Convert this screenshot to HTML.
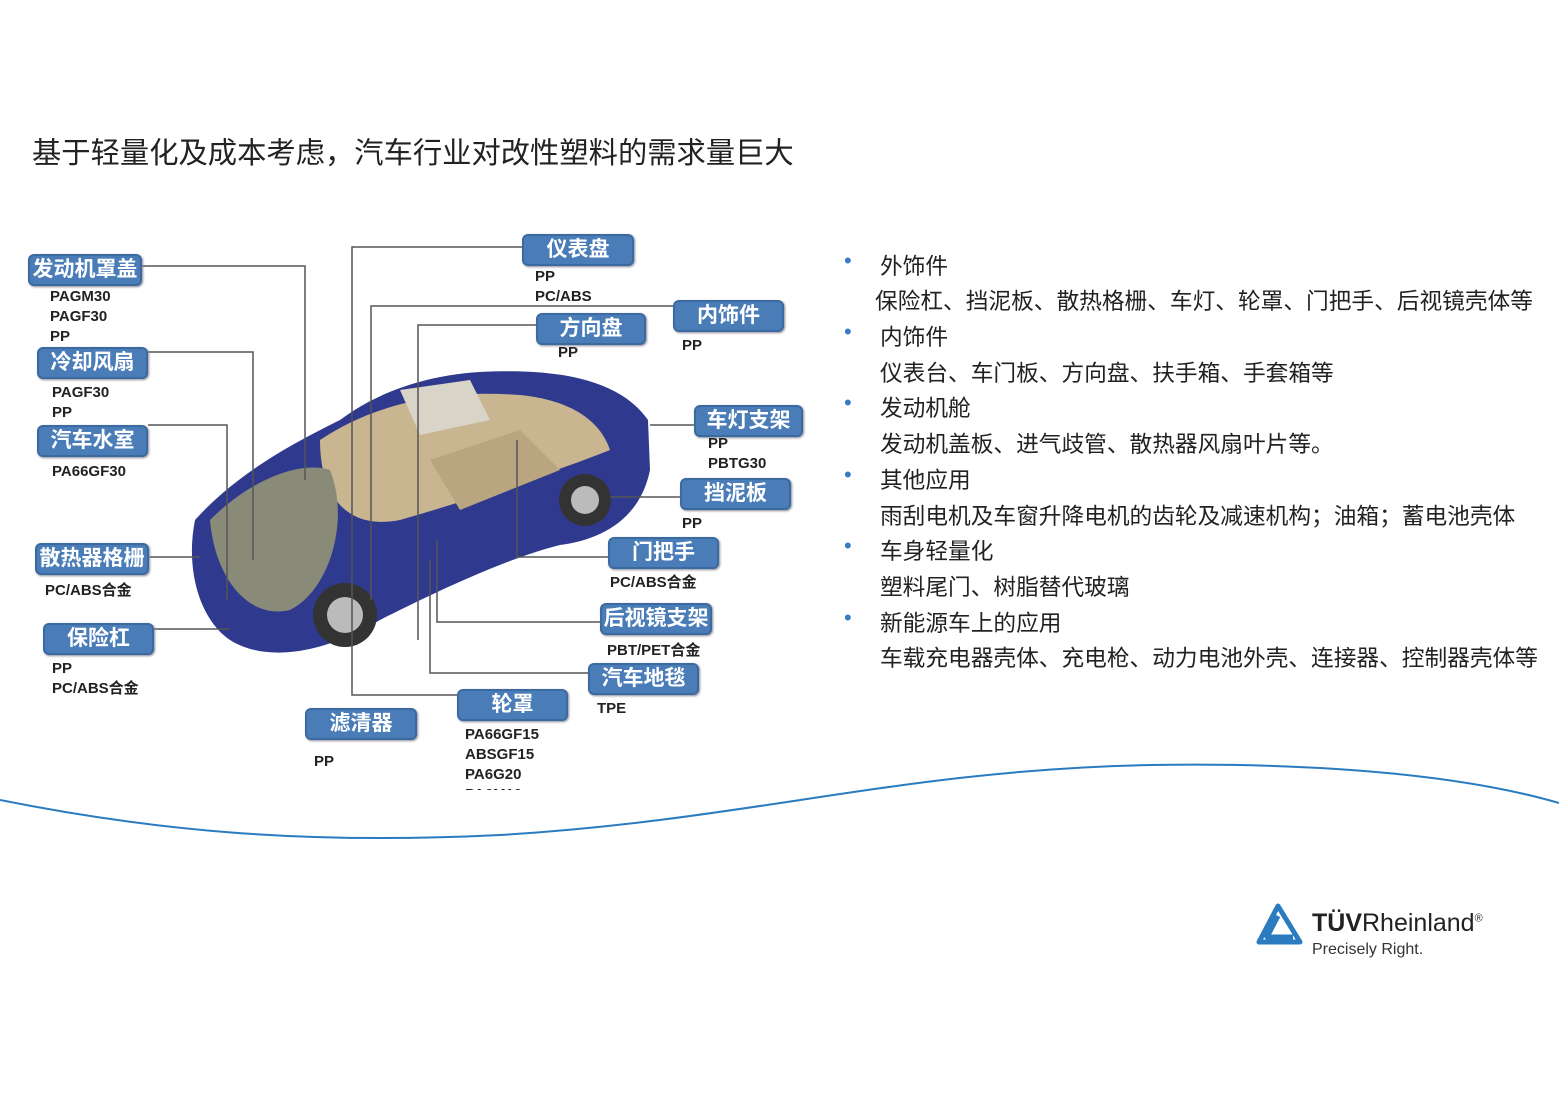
<!DOCTYPE html>
<html><head><meta charset="utf-8"><style>
body{margin:0;width:1559px;height:1102px;background:#fff;position:relative;overflow:hidden;font-family:"Liberation Sans","Noto Sans CJK SC",sans-serif}
.a{position:absolute;white-space:nowrap}
.b{position:absolute;background:#4a7db8;border:2px solid #3a6aa0;border-radius:6px;color:#fff;font-weight:bold;font-size:21px;text-align:center;line-height:28px;box-shadow:1px 1px 2px #889}
.m{position:absolute;font-weight:bold;font-size:15px;line-height:20px;color:#222}
.t{position:absolute;font-size:22.7px;color:#222;left:880px;white-space:nowrap}
.d{position:absolute;left:844px;color:#3a7cc4;font-size:22px}
</style></head><body>
<div class="a" style="left:32px;top:130px;font-size:29.3px;color:#222">基于轻量化及成本考虑，汽车行业对改性塑料的需求量巨大</div>

<svg class="a" style="left:0;top:0" width="1559" height="1102">
<path d="M0,800 C150,830 300,845 500,835 C750,820 900,770 1150,765 C1350,762 1480,780 1559,803" stroke="#2a7bc0" stroke-width="2" fill="none"/>
<g>
<path d="M195,520 C240,470 300,440 340,420 C380,390 430,375 480,372 C560,368 620,380 648,420 L650,470 C640,520 600,540 560,545 C500,560 420,600 380,620 C330,650 270,665 230,640 C200,620 185,570 195,520Z" fill="#2f3a8f"/>
<path d="M320,440 C380,400 450,390 520,395 C570,400 600,420 610,450 C560,470 470,500 400,520 C350,530 320,500 320,440Z" fill="#c9b58f"/>
<path d="M210,520 C250,480 300,460 330,470 C350,520 330,590 290,610 C250,620 215,580 210,520Z" fill="#8a8a78"/>
<path d="M400,390 L470,380 L490,420 L420,435Z" fill="#d8d4c8"/>
<circle cx="345" cy="615" r="32" fill="#333"/><circle cx="345" cy="615" r="18" fill="#bbb"/>
<circle cx="585" cy="500" r="26" fill="#333"/><circle cx="585" cy="500" r="14" fill="#bbb"/>
<path d="M430,460 L520,430 L560,470 L460,510Z" fill="#b9a57f"/>
</g>
<g stroke="#555" stroke-width="1.5" fill="none">
<path d="M142,266 H305 V480"/>
<path d="M148,352 H253 V560"/>
<path d="M148,425 H227 V600"/>
<path d="M149,557 H200"/>
<path d="M154,629 H230"/>
<path d="M522,247 H352 V695 H457"/>
<path d="M673,306 H371 V600"/>
<path d="M536,325 H418 V640"/>
<path d="M588,673 H430 V560"/>
<path d="M600,622 H437 V540"/>
<path d="M608,557 H517 V440"/>
<path d="M680,497 H610"/>
<path d="M694,425 H650"/>
</g>
</svg>

<div class="b" style="left:28px;top:254px;width:110px">发动机罩盖</div>
<div class="m" style="left:50px;top:287px">PAGM30<br>PAGF30<br>PP</div>
<div class="b" style="left:37px;top:347px;width:107px">冷却风扇</div>
<div class="m" style="left:52px;top:383px">PAGF30<br>PP</div>
<div class="b" style="left:37px;top:425px;width:107px">汽车水室</div>
<div class="m" style="left:52px;top:462px">PA66GF30</div>
<div class="b" style="left:35px;top:543px;width:110px">散热器格栅</div>
<div class="m" style="left:45px;top:581px">PC/ABS合金</div>
<div class="b" style="left:43px;top:623px;width:107px">保险杠</div>
<div class="m" style="left:52px;top:659px">PP<br>PC/ABS合金</div>
<div class="b" style="left:522px;top:234px;width:108px">仪表盘</div>
<div class="m" style="left:535px;top:267px">PP<br>PC/ABS</div>
<div class="b" style="left:536px;top:313px;width:106px">方向盘</div>
<div class="m" style="left:558px;top:343px">PP</div>
<div class="b" style="left:673px;top:300px;width:107px">内饰件</div>
<div class="m" style="left:682px;top:336px">PP</div>
<div class="b" style="left:694px;top:405px;width:105px">车灯支架</div>
<div class="m" style="left:708px;top:434px">PP<br>PBTG30</div>
<div class="b" style="left:680px;top:478px;width:107px">挡泥板</div>
<div class="m" style="left:682px;top:514px">PP</div>
<div class="b" style="left:608px;top:537px;width:107px">门把手</div>
<div class="m" style="left:610px;top:573px">PC/ABS合金</div>
<div class="b" style="left:600px;top:603px;width:108px">后视镜支架</div>
<div class="m" style="left:607px;top:641px">PBT/PET合金</div>
<div class="b" style="left:588px;top:663px;width:107px">汽车地毯</div>
<div class="m" style="left:597px;top:699px">TPE</div>
<div class="b" style="left:457px;top:689px;width:107px">轮罩</div>
<div class="m" style="left:465px;top:725px;height:65px;overflow:hidden">PA66GF15<br>ABSGF15<br>PA6G20<br>PA6M10</div>
<div class="b" style="left:305px;top:708px;width:108px">滤清器</div>
<div class="m" style="left:314px;top:752px">PP</div>

<div class="d" style="top:248px">•</div><div class="t" style="top:248px">外饰件</div>
<div class="t" style="top:283px;left:875px">保险杠、挡泥板、散热格栅、车灯、轮罩、门把手、后视镜壳体等</div>
<div class="d" style="top:319px">•</div><div class="t" style="top:319px">内饰件</div>
<div class="t" style="top:355px">仪表台、车门板、方向盘、扶手箱、手套箱等</div>
<div class="d" style="top:390px">•</div><div class="t" style="top:390px">发动机舱</div>
<div class="t" style="top:426px">发动机盖板、进气歧管、散热器风扇叶片等。</div>
<div class="d" style="top:462px">•</div><div class="t" style="top:462px">其他应用</div>
<div class="t" style="top:498px">雨刮电机及车窗升降电机的齿轮及减速机构；油箱；蓄电池壳体</div>
<div class="d" style="top:533px">•</div><div class="t" style="top:533px">车身轻量化</div>
<div class="t" style="top:569px">塑料尾门、树脂替代玻璃</div>
<div class="d" style="top:605px">•</div><div class="t" style="top:605px">新能源车上的应用</div>
<div class="t" style="top:640px">车载充电器壳体、充电枪、动力电池外壳、连接器、控制器壳体等</div>

<svg class="a" style="left:1256px;top:902px" width="50" height="44"><path d="M22,4 L3,40 L44,40 Z M22,14 L11,35 L37,35" fill="none" stroke="#2a7bc0" stroke-width="5" stroke-linejoin="round"/></svg>
<div class="a" style="left:1312px;top:909px;font-size:25px;color:#222"><b>TÜV</b>Rheinland<sup style="font-size:11px">®</sup></div>
<div class="a" style="left:1312px;top:941px;font-size:16px;color:#333">Precisely Right.</div>
</body></html>
